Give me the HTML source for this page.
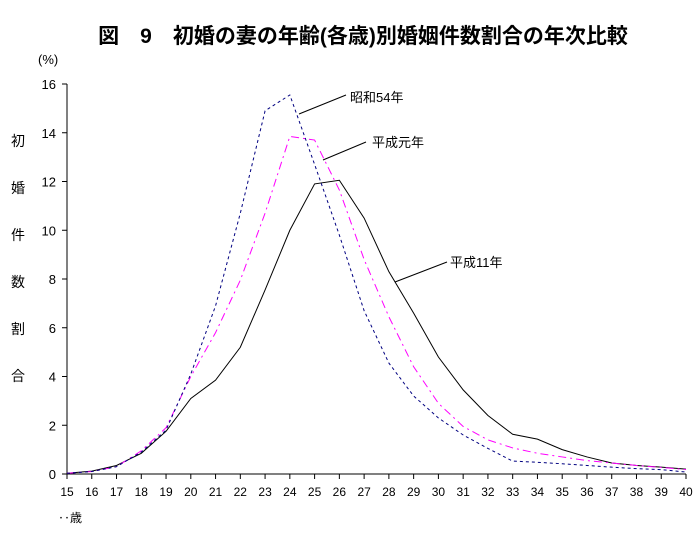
<!DOCTYPE html>
<html><head><meta charset="utf-8"><style>
body{margin:0;background:#fff;}
svg{display:block;font-family:"Liberation Sans","Noto Sans CJK JP",sans-serif;}
</style></head><body>
<svg id="c" width="700" height="537">
<text x="363" y="43" text-anchor="middle" font-size="21" font-weight="bold">図　9　初婚の妻の年齢(各歳)別婚姻件数割合の年次比較</text>
<text x="38" y="64" font-size="13">(%)</text>
<g font-size="14" text-anchor="middle">
<text x="18" y="146">初</text><text x="18" y="193">婚</text><text x="18" y="240">件</text><text x="18" y="287">数</text><text x="18" y="334">割</text><text x="18" y="381">合</text>
</g>
<text x="58" y="522" font-size="12">‥歳</text>
<g id="axes"></g>
<g id="series"></g>
<g font-size="13">
<line x1="299" y1="114" x2="346" y2="95" stroke="#000"/>
<text x="350" y="102">昭和54年</text>
<line x1="323" y1="160" x2="366" y2="142" stroke="#000"/>
<text x="372" y="147">平成元年</text>
<line x1="395" y1="282" x2="447" y2="262" stroke="#000"/>
<text x="450" y="267">平成11年</text>
</g>
</svg>
<script>
const ages=[15,16,17,18,19,20,21,22,23,24,25,26,27,28,29,30,31,32,33,34,35,36,37,38,39,40];
const yTicks=[0,2,4,6,8,10,12,14,16];
const showa54=[0.03,0.1,0.3,0.9,1.8,4.1,6.9,10.7,14.9,15.55,12.7,9.8,6.7,4.55,3.2,2.3,1.6,1.05,0.53,0.48,0.42,0.35,0.28,0.22,0.18,0.08];
const heisei1=[0.03,0.1,0.3,0.95,1.9,4.0,5.8,7.95,10.7,13.85,13.7,11.65,8.8,6.45,4.4,2.9,1.95,1.4,1.07,0.85,0.7,0.55,0.45,0.35,0.27,0.18];
const heisei11=[0.03,0.12,0.35,0.85,1.75,3.1,3.85,5.2,7.55,10.0,11.9,12.05,10.5,8.3,6.6,4.8,3.45,2.4,1.63,1.43,1.0,0.7,0.45,0.35,0.28,0.2];
const NS="http://www.w3.org/2000/svg";
const X0=67,X1=686,Y0=474,Y1=84;
const xs=a=>X0+(a-15)*(X1-X0)/25;
const ys=v=>Y0-v*(Y0-Y1)/16;
function mk(t,p,attrs){const e=document.createElementNS(NS,t);for(const k in attrs)e.setAttribute(k,attrs[k]);p.appendChild(e);return e;}
const ax=document.getElementById('axes');
let l=mk('line',ax,{x1:X0,y1:Y1,x2:X0,y2:Y0,stroke:'#000'});


l=mk('line',ax,{x1:X0,y1:Y0,x2:X1,y2:Y0,stroke:'#000'});


yTicks.forEach(v=>{
 const t=mk('line',ax,{x1:X0-5,y1:ys(v),x2:X0,y2:ys(v),stroke:'#000'});
 
 
 const tx=mk('text',ax,{x:X0-11,y:ys(v)+5,'text-anchor':'end','font-size':13});
 tx.textContent=v;
 
 
});
ages.forEach(a=>{
 const t=mk('line',ax,{x1:xs(a),y1:Y0,x2:xs(a),y2:Y0+5,stroke:'#000'});
 
 
 const tx=mk('text',ax,{x:xs(a),y:Y0+22,'text-anchor':'middle','font-size':12});
 tx.textContent=a;
 
 
});
const sg=document.getElementById('series');
function line(vals,attrs,name){
 const p=mk('polyline',sg,Object.assign({fill:'none',points:vals.map((v,i)=>xs(ages[i])+','+ys(v)).join(' ')},attrs));
 
 
}
line(heisei11,{stroke:'#000','stroke-width':1},'line-heisei11');
line(heisei1,{stroke:'#ff00ff','stroke-width':1,'stroke-dasharray':'8,4,2,4'},'line-heisei1');
line(showa54,{stroke:'#000080','stroke-width':1,'stroke-dasharray':'3,3'},'line-showa54');
</script>
</body></html>
